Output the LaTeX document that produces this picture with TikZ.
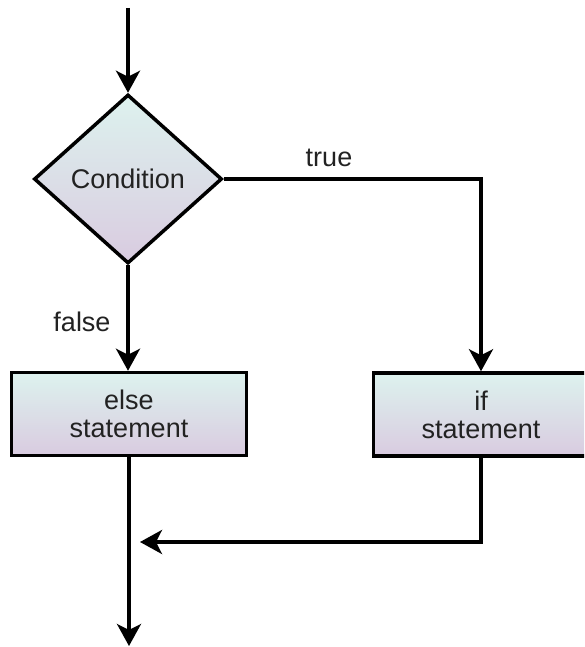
\documentclass[tikz,border=0pt]{standalone}
\usepackage{fontspec}
\setmainfont{Liberation Sans}
\usetikzlibrary{shapes.geometric,arrows.meta}
\definecolor{topc}{HTML}{DDF2EE}
\definecolor{botc}{HTML}{D9CBE0}
\definecolor{txt}{HTML}{222222}
\begin{document}
\begin{tikzpicture}[x=1pt,y=-1pt,line width=3.5pt,line join=miter,
  every node/.style={font=\fontsize{27}{28}\selectfont,text=txt},
  box/.style={draw=black,top color=topc,bottom color=botc,minimum width=235pt,minimum height=83pt,inner sep=0pt,align=center},
  dec/.style={draw=black,diamond,top color=topc,bottom color=botc,minimum width=188pt,minimum height=169pt,inner sep=0pt},
  flow/.style={-{Stealth[length=22pt,width=24pt,inset=6pt]}},
  lbl/.style={inner sep=0pt}]
\useasboundingbox (0,0) rectangle (584,647);
\clip (0,0) rectangle (584,647);
\coordinate (start) at (128,8);
\node[dec] (cond) at (128,179) {Condition};
\node[box] (else) at (129,414) {else\\statement};
\node[box,minimum width=215pt] (if) at (481,414.5) {if\\statement};
\coordinate (join) at (140,542);
\coordinate (end) at (129,646);
\node[lbl] (t) at (329,158) {true};
\node[lbl] (f) at (82,322) {false};
\draw[flow] (start) -- (cond.north);
\draw[flow] (cond.south) -- (cond.south |- else.north);
\draw[flow] (cond.east) -| (if.north);
\draw[flow] (if.south) |- (join);
\draw[flow] (else.south) -- (end);
\end{tikzpicture}
\end{document}
